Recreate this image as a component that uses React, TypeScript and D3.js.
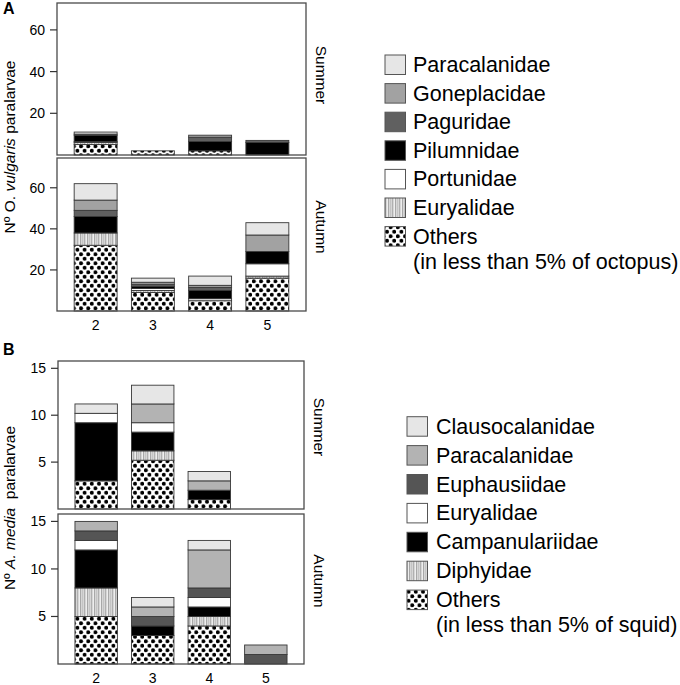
import * as d3 from 'd3';

const ageGroups = ['2', '3', '4', '5'];

// octopus (panel A): rows follow octopusKeys, columns follow ageGroups
const octopusKeys = ['Others', 'Euryalidae', 'Portunidae', 'Pilumnidae', 'Paguridae', 'Goneplacidae', 'Paracalanidae'];
const octopusSummer = [
  [5, 2, 2, 0],
  [1, 0, 0, 0],
  [0.5, 0, 0, 0],
  [3, 0, 4.5, 6],
  [0.5, 0, 2, 1],
  [0, 0, 1, 0],
  [1, 0, 0, 0],
];
const octopusAutumn = [
  [32, 9, 5, 16],
  [6, 1, 0, 1],
  [0, 1, 1, 6],
  [8, 1, 4, 6],
  [3, 1, 1.5, 0],
  [5, 1, 1, 8],
  [8, 2, 4.5, 6],
];
const octopusTicks = [20, 40, 60];

// squid (panel B)
const squidKeys = ['Others', 'Diphyidae', 'Campanulariidae', 'Euryalidae', 'Euphausiidae', 'Paracalanidae', 'Clausocalanidae'];
const squidSummer = [
  [3, 5.2, 1, 0],
  [0, 1, 0, 0],
  [6.2, 2, 1, 0],
  [1, 1, 0, 0],
  [0, 0, 0, 0],
  [0, 2, 1, 0],
  [1, 2, 1, 0],
];
const squidAutumn = [
  [5, 3, 4, 0],
  [3, 0, 1, 0],
  [4, 1, 1, 0],
  [1, 0, 1, 0],
  [1, 1, 1, 1],
  [1, 1, 4, 1],
  [0, 1, 1, 0],
];
const squidTicks = [5, 10, 15];

const octopusFills: Record<string, string> = {
  Others: 'url(#dots)',
  Euryalidae: 'url(#stripes)',
  Portunidae: '#ffffff',
  Pilumnidae: '#000000',
  Paguridae: '#606060',
  Goneplacidae: '#a2a2a2',
  Paracalanidae: '#e6e6e6',
};
const squidFills: Record<string, string> = {
  Others: 'url(#dots)',
  Diphyidae: 'url(#stripes)',
  Campanulariidae: '#000000',
  Euryalidae: '#ffffff',
  Euphausiidae: '#555555',
  Paracalanidae: '#b3b3b3',
  Clausocalanidae: '#e6e6e6',
};

const FONT = '"Liberation Sans", Arial, Helvetica, sans-serif';

interface PanelProps {
  keys: string[];
  values: number[][];
  fills: Record<string, string>;
  left: number;
  right: number;
  top: number;
  bottom: number;
  yMax: number;
  ticks: number[];
  season: string;
  seasonY: number;
  xLabelY?: number;
}

const Panel = ({ keys, values, fills, left, right, top, bottom, yMax, ticks, season, seasonY, xLabelY }: PanelProps) => {
  const x = d3.scaleBand<string>().domain(ageGroups).range([left, right]).paddingInner(0.25).paddingOuter(0.3);
  const y = d3.scaleLinear().domain([0, yMax]).range([bottom, top]);

  const rows = ageGroups.map((g, i) => {
    const row: Record<string, number | string> = { group: g };
    keys.forEach((k, j) => { row[k] = values[j][i]; });
    return row;
  });
  const series = d3.stack<Record<string, number | string>>().keys(keys)(rows as any);

  return (
    <g>
      {series.map(s => (
        <g key={s.key}>
          {s.map((d, i) => d[1] - d[0] > 0 && (
            <rect
              key={i}
              x={x(ageGroups[i])}
              y={y(d[1])}
              width={x.bandwidth()}
              height={y(d[0]) - y(d[1])}
              fill={fills[s.key]}
              stroke="#383838"
              strokeWidth={0.9}
            />
          ))}
        </g>
      ))}
      <rect x={left} y={top} width={right - left} height={bottom - top} fill="none" stroke="#4a4a4a" strokeWidth={1.3} />
      {ticks.map(t => (
        <g key={t}>
          <line x1={left - 7} x2={left} y1={y(t)} y2={y(t)} stroke="#333" strokeWidth={1.2} />
          <text x={left - 12} y={y(t)} textAnchor="end" dominantBaseline="central" fontSize={14}>{t}</text>
        </g>
      ))}
      <text transform={`translate(${right + 10},${seasonY}) rotate(90)`} textAnchor="middle" fontSize={15.5}>{season}</text>
      {xLabelY !== undefined && ageGroups.map(g => (
        <text key={g} x={(x(g) ?? 0) + x.bandwidth() / 2} y={xLabelY} textAnchor="middle" dominantBaseline="central" fontSize={14}>{g}</text>
      ))}
    </g>
  );
};

interface LegendProps {
  keys: string[];
  fills: Record<string, string>;
  swatchX: number;
  textX: number;
  startY: number;
  step: number;
  note: string;
}

const Legend = ({ keys, fills, swatchX, textX, startY, step, note }: LegendProps) => {
  const items = [...keys].reverse();
  return (
    <g>
      {items.map((k, i) => {
        const cy = startY + i * step;
        return (
          <g key={k}>
            <rect x={swatchX} y={cy - 10} width={20.5} height={19.5} fill={fills[k]} stroke="#555" strokeWidth={1} />
            <text x={textX} y={cy} dominantBaseline="central" fontSize={21.5}>{k}</text>
          </g>
        );
      })}
      <text x={textX} y={startY + (items.length - 1) * step + 25} dominantBaseline="central" fontSize={21.5}>{note}</text>
    </g>
  );
};

export default function App() {
  return (
    <div style={{ position: 'absolute', left: 0, top: 0 }}>
      <svg width={680} height={685} fontFamily={FONT} style={{ display: 'block', background: '#fff' }}>
        <defs>
          <pattern id="dots" patternUnits="userSpaceOnUse" width={7.2} height={9}>
            <rect width={7.2} height={9} fill="#fff" />
            <circle cx={1.8} cy={2.25} r={2} fill="#000" />
            <circle cx={5.4} cy={6.75} r={2} fill="#000" />
          </pattern>
          <pattern id="stripes" patternUnits="userSpaceOnUse" width={7} height={4}>
            <rect width={7} height={4} fill="#d6d6d6" />
            <rect x={0} width={1} height={4} fill="#b0b0b0" />
            <rect x={2} width={1} height={4} fill="#eeeeee" />
            <rect x={3} width={1} height={4} fill="#a8a8a8" />
            <rect x={5} width={1} height={4} fill="#c4c4c4" />
          </pattern>
        </defs>

        <text x={3} y={14} fontSize={16} fontWeight="bold">A</text>
        <text transform="translate(15,147) rotate(-90)" textAnchor="middle" fontSize={15.5}>
          Nº O. <tspan fontStyle="italic">vulgaris</tspan> paralarvae
        </text>
        <Panel keys={octopusKeys} values={octopusSummer} fills={octopusFills}
          left={57} right={306} top={3} bottom={155} yMax={72.9} ticks={octopusTicks}
          season="Summer" seasonY={75} />
        <Panel keys={octopusKeys} values={octopusAutumn} fills={octopusFills}
          left={57} right={306} top={158} bottom={311} yMax={74.5} ticks={octopusTicks}
          season="Autumn" seasonY={227} xLabelY={325} />
        <Legend keys={octopusKeys} fills={octopusFills} swatchX={385} textX={413} startY={65} step={28.6}
          note="(in less than 5% of octopus)" />

        <text x={3} y={355} fontSize={16} fontWeight="bold">B</text>
        <text transform="translate(15,508) rotate(-90)" textAnchor="middle" fontSize={15.5} style={{ whiteSpace: 'pre' }}>
          Nº <tspan fontStyle="italic">A. media</tspan>{'  '}paralarvae
        </text>
        <Panel keys={squidKeys} values={squidSummer} fills={squidFills}
          left={58} right={304} top={361} bottom={509} yMax={15.78} ticks={squidTicks}
          season="Summer" seasonY={427} />
        <Panel keys={squidKeys} values={squidAutumn} fills={squidFills}
          left={58} right={304} top={514} bottom={664} yMax={15.78} ticks={squidTicks}
          season="Autumn" seasonY={581} xLabelY={678} />
        <Legend keys={squidKeys} fills={squidFills} swatchX={407} textX={436} startY={426.7} step={28.9}
          note="(in less than 5% of squid)" />
      </svg>
    </div>
  );
}
